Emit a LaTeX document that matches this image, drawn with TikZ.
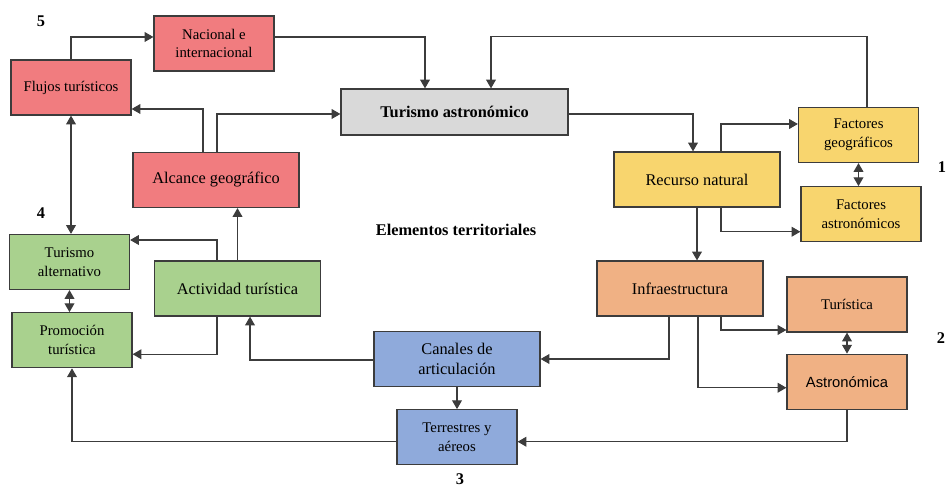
\documentclass[tikz,border=0pt]{standalone}
\usepackage{fontspec}
\setmainfont{Liberation Serif}
\newfontfamily\arial{Liberation Sans}
\usetikzlibrary{positioning,calc,arrows.meta}
\definecolor{rojo}{RGB}{241,124,127}
\definecolor{gris}{RGB}{217,217,217}
\definecolor{amarillo}{RGB}{248,213,110}
\definecolor{verde}{RGB}{169,209,142}
\definecolor{naranja}{RGB}{240,177,132}
\definecolor{azul}{RGB}{143,170,219}
\definecolor{borde}{RGB}{60,60,60}
\newcommand{\chico}{\fontsize{8.4}{10.6}\selectfont}
\newcommand{\grande}{\fontsize{9.3}{11.6}\selectfont}

\begin{document}
\begin{tikzpicture}[x=0.2mm,y=-0.2mm,
  caja/.style={draw=borde,line width=0.7pt,align=center,inner sep=1pt},
  cch/.style={caja,minimum width=24mm,minimum height=11mm,font=\chico},
  cgr/.style={caja,minimum width=33.2mm,minimum height=11mm,font=\grande},
  flecha/.style={draw=borde,line width=0.6pt,-{Triangle[length=5pt,width=5.6pt]}},
  doble/.style={flecha,{Triangle[length=5pt,width=5.6pt]}-{Triangle[length=5pt,width=5.6pt]}},
  num/.style={font=\grande\bfseries}]
\useasboundingbox (0,0) rectangle (948,486);
% rojo
\node[cch,fill=rojo] (nac) at (214,43.5) {Nacional e\\internacional};
\node[cch,fill=rojo] (flu) at (71,87.5)  {Flujos turísticos};
\node[cgr,fill=rojo] (alc) at (216,180)  {Alcance geográfico};
% centro
\node[caja,fill=gris,minimum width=45.4mm,minimum height=9.2mm,font=\grande\bfseries]
     (tur) at (454.5,112) {Turismo astronómico};
\node[font=\grande\bfseries] (elem) at (456,230) {Elementos territoriales};
% amarillo
\node[cgr,fill=amarillo] (rec)  at (697,179.5) {Recurso natural};
\node[cch,fill=amarillo] (fgeo) at (858.5,135) {Factores\\geográficos};
\node[cch,fill=amarillo,below=4.6mm of fgeo,xshift=0.5mm] (fast) {Factores\\astronómicos};
% naranja
\node[cgr,fill=naranja] (inf)  at (680,288.5) {Infraestructura};
\node[cch,fill=naranja] (turi) at (847,304.5) {Turística};
\node[cch,fill=naranja,below=4.2mm of turi,font=\arial\chico] (astr) {Astronómica};
% azul
\node[cgr,fill=azul] (can) at (457,359) {Canales de\\articulación};
\node[cch,fill=azul,below=4.4mm of can] (ter) {Terrestres y\\aéreos};
% verde
\node[cch,fill=verde] (talt) at (69.5,262) {Turismo\\alternativo};
\node[cch,fill=verde,below=4.4mm of talt,xshift=0.5mm] (prom) {Promoción\\turística};
\node[cgr,fill=verde] (act) at (237.5,288.5) {Actividad turística};
% numeros
\node[num] (n5) at (41,21)  {5};
\node[num] (n4) at (41,213) {4};
\node[num] (n1) at (942,167) {1};
\node[num] (n2) at (941,338) {2};
\node[num,anchor=base] (n3) at (460,484.5) {3};
%
\draw[flecha] (flu.north) |- ($(nac.west)+(0,-6.5)$);
\draw[flecha] ($(nac.east)+(0,-6.5)$) -| ($(tur.north)+(-29.5,0)$);
\draw[flecha] ($(fgeo.north)+(8.5,0)$) |- ($(tur.north)+(36.5,-52)$) -- ($(tur.north)+(36.5,0)$);
\draw[flecha] ($(alc.north)+(-13,0)$) |- ($(flu.east)+(0,21.5)$);
\draw[flecha] ($(alc.north)+(1,0)$) |- ($(tur.west)+(0,2)$);
\draw[flecha] ($(tur.east)+(0,2)$) -| ($(rec.north)+(-4,0)$);
\draw[flecha] ($(rec.north)+(24,0)$) |- ($(fgeo.west)+(0,-11)$);
\draw[flecha] ($(rec.south)+(24,0)$) |- ($(fast.west)+(0,17.5)$);
\draw[doble]  (fgeo.south) -- (fgeo.south |- fast.north);
\draw[flecha] (rec.south) -- (rec.south |- inf.north);
\draw[flecha] ($(inf.south)+(-11,0)$) |- (can.east);
\draw[flecha] ($(inf.south)+(41,0)$) |- ($(turi.west)+(0,25.5)$);
\draw[flecha] ($(inf.south)+(18,0)$) |- ($(astr.west)+(0,6)$);
\draw[doble]  (turi.south) -- (astr.north);
\draw[flecha] (astr.south) |- ($(ter.east)+(0,4.5)$);
\draw[flecha] (can.south) -- (ter.north);
\draw[flecha] ($(can.west)+(0,1)$) -| ($(act.south)+(12.5,0)$);
\draw[flecha] ($(ter.west)+(0,4.5)$) -| (prom.south);
\draw[flecha] ($(act.north)+(-20.5,0)$) |- ($(talt.east)+(0,-22)$);
\draw[flecha] ($(act.south)+(-20.5,0)$) |- ($(prom.east)+(0,14)$);
\draw[flecha] (act.north) -- (act.north |- alc.south);
\draw[doble]  (talt.south) -- (talt.south |- prom.north);
\draw[doble]  (flu.south) -- (flu.south |- talt.north);
\end{tikzpicture}
\end{document}
